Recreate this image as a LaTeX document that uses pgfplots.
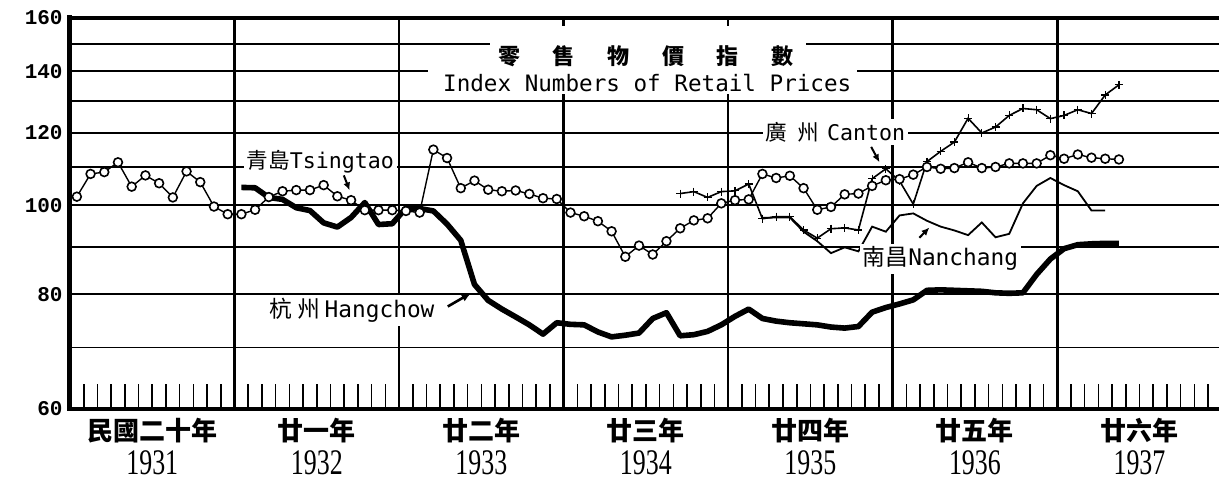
\documentclass[border=0pt]{standalone}
\usepackage{fontspec}
\setmainfont{DejaVu Sans}
\newfontfamily\cjk{Noto Sans CJK TC}
\newfontfamily\lab{DejaVu Sans Mono}
\newfontfamily\tickf{Liberation Mono}
\newfontfamily\yearf{Liberation Serif}
\usepackage{graphicx}
\usepackage{pgfplots}
\pgfplotsset{compat=1.18}
\usetikzlibrary{arrows.meta}

\begin{document}
\begin{tikzpicture}
\begin{axis}[
  scale only axis, width=574.5pt, height=195.5pt,
  xmin=0, xmax=83.8, ymin=60, ymax=160, ymode=log,
  clip=false,
  axis line style={draw=none},
  xtick={0,12,...,84}, xticklabels={}, minor xtick={0,1,...,84},
  xtick pos=bottom, tick align=inside,
  major tick length=12.5pt, minor tick length=12.5pt,
  xtick style={black, line width=0.8pt},
  ytick={60,80,100,120,140,160},
  yticklabels={60,80,100,120,140,160},
  minor ytick={70,90,110,130,150},
  ytick pos=left, ytick style={draw=none},
  ymajorgrids, yminorgrids,
  major grid style={black, line width=0.9pt},
  minor grid style={black, line width=0.9pt},
  yticklabel style={font=\tickf\bfseries\fontsize{10.5}{10.5}\selectfont, inner sep=1pt, xshift=-2.5pt},
]
% year boundaries
\draw[line width=1.3pt] (axis cs:12,60) -- (axis cs:12,160);
\draw[line width=1.3pt] (axis cs:24,60) -- (axis cs:24,160);
\draw[line width=1.3pt] (axis cs:36,60) -- (axis cs:36,160);
\draw[line width=1.3pt] (axis cs:48,60) -- (axis cs:48,160);
\draw[line width=1.3pt] (axis cs:60,60) -- (axis cs:60,160);
\draw[line width=1.3pt] (axis cs:72,60) -- (axis cs:72,160);

% Hangchow
\addplot[black, line width=2.8pt, line join=round] coordinates {
(12.5,104.6)(13.5,104.5)(14.5,102.0)(15.5,101.5)(16.5,99.4)(17.5,98.7)(18.5,95.7)(19.5,94.7)
(20.5,97.0)(21.5,100.7)(22.5,95.3)(23.5,95.5)(24.5,99.3)(25.5,99.2)(26.5,98.6)(27.5,95.4)
(28.5,91.6)(29.5,82.0)(30.5,78.8)(31.5,77.1)(32.5,75.6)(33.5,74.1)(34.5,72.4)(35.5,74.5)
(36.5,74.2)(37.5,74.1)(38.5,72.8)(39.5,71.9)(40.5,72.2)(41.5,72.6)(42.5,75.3)(43.5,76.4)
(44.5,72.1)(45.5,72.3)(46.5,72.9)(47.5,74.1)(48.5,75.7)(49.5,77.1)(50.5,75.3)(51.5,74.8)
(52.5,74.5)(53.5,74.3)(54.5,74.1)(55.5,73.7)(56.5,73.5)(57.5,73.8)(58.5,76.5)(59.5,77.4)
(60.5,78.1)(61.5,78.9)(62.5,80.8)(63.5,80.9)(64.5,80.8)(65.5,80.7)(66.5,80.6)(67.5,80.3)
(68.5,80.2)(69.5,80.3)(70.5,84.1)(71.5,87.4)(72.5,89.7)(73.5,90.6)(74.5,90.8)(75.5,90.9)
(76.5,90.9)};

% Nanchang
\addplot[black, line width=0.9pt] coordinates {
(50.5,96.9)(51.5,97.0)(52.5,97.0)(53.5,93.6)(54.5,91.4)(55.5,88.7)(56.5,90.0)(57.5,89.1)
(58.5,94.8)(59.5,93.6)(60.5,97.5)(61.5,98.0)(62.5,96.2)(63.5,94.8)(64.5,93.9)(65.5,92.8)
(66.5,95.8)(67.5,92.3)(68.5,93.1)(69.5,100.5)(70.5,105.0)(71.5,107.1)(72.5,105.2)(73.5,103.6)
(74.5,98.7)(75.5,98.7)};

% Canton
\addplot[black, line width=0.8pt, mark=+, mark size=2pt, mark options={line width=0.6pt}] coordinates {
(44.5,103.0)(45.5,103.5)(46.5,102.0)(47.5,103.5)(48.5,103.7)(49.5,105.5)(50.5,96.7)(51.5,97.2)
(52.5,97.2)(53.5,94.0)(54.5,92.1)(55.5,94.3)(56.5,94.5)(57.5,94.0)(58.5,106.9)(59.5,109.6)
(60.5,106.3)(61.5,100.3)(62.5,111.6)(63.5,114.5)(64.5,117.2)(65.5,124.4)(66.5,119.9)(67.5,121.7)
(68.5,125.3)(69.5,127.5)(70.5,127.1)(71.5,124.3)(72.5,125.3)(73.5,127.1)(74.5,125.9)(75.5,131.9)
(76.5,135.3)};

% Tsingtao
\addplot[black, line width=0.7pt, mark=*, mark size=2.2pt, mark options={fill=white, line width=0.8pt}] coordinates {
(0.5,102.2)(1.5,108.2)(2.5,108.7)(3.5,111.4)(4.5,104.8)(5.5,107.8)(6.5,105.7)(7.5,102.0)
(8.5,108.9)(9.5,106.0)(10.5,99.7)(11.5,97.8)(12.5,97.8)(13.5,98.9)(14.5,102.1)(15.5,103.6)
(16.5,103.9)(17.5,103.9)(18.5,105.2)(19.5,102.3)(20.5,101.3)(21.5,98.8)(22.5,98.8)(23.5,98.8)
(24.5,98.6)(25.5,98.2)(26.5,115.0)(27.5,112.6)(28.5,104.4)(29.5,106.4)(30.5,104.0)(31.5,103.6)
(32.5,103.8)(33.5,102.9)(34.5,101.8)(35.5,101.6)(36.5,98.2)(37.5,97.3)(38.5,96.1)(39.5,93.7)
(40.5,87.9)(41.5,90.4)(42.5,88.4)(43.5,91.4)(44.5,94.4)(45.5,96.3)(46.5,96.8)(47.5,100.5)
(48.5,101.3)(49.5,101.5)(50.5,108.2)(51.5,107.1)(52.5,107.7)(53.5,104.4)(54.5,98.9)(55.5,99.6)
(56.5,102.8)(57.5,103.0)(58.5,105.0)(59.5,106.5)(60.5,106.8)(61.5,108.0)(62.5,110.1)(63.5,109.6)
(64.5,109.8)(65.5,111.4)(66.5,109.8)(67.5,110.1)(68.5,111.1)(69.5,111.1)(70.5,111.1)(71.5,113.4)
(72.5,112.4)(73.5,113.6)(74.5,112.7)(75.5,112.4)(76.5,112.2)};

% title
\fill[white] (axis cs:30.6,143) rectangle (axis cs:53.7,157);
\fill[white] (axis cs:26.1,132.2) rectangle (axis cs:57.4,143);
\node[font=\cjk\bfseries\fontsize{11}{11}\selectfont] at (axis cs:42.0,145.5)
  {零\hspace{16.3pt}售\hspace{16.3pt}物\hspace{16.3pt}價\hspace{16.3pt}指\hspace{16.3pt}數};
\node[font=\lab\fontsize{11.3}{11.3}\selectfont] at (axis cs:42.1,135.8) {Index Numbers of Retail Prices};

% series labels
\node[fill=white, inner sep=1.5pt, font=\fontsize{10.8}{10.8}\selectfont] at (axis cs:18.26,111.7)
  {{\cjk 青島}{\lab Tsingtao}};
\node[fill=white, inner sep=1.5pt, font=\fontsize{10.8}{10.8}\selectfont] at (axis cs:55.83,120.2)
  {{\cjk 廣\hspace{5pt}州}\hspace{4pt}{\lab Canton}};
\node[fill=white, inner sep=1.5pt, font=\fontsize{11.4}{11.4}\selectfont] at (axis cs:63.48,87.5)
  {{\cjk 南昌}{\lab Nanchang}};
\node[fill=white, inner sep=1.5pt, font=\fontsize{11.4}{11.4}\selectfont] at (axis cs:20.55,76.8)
  {{\cjk 杭\hspace{3pt}州}\hspace{2pt}{\lab Hangchow}};
\draw[-{Latex[length=4pt,width=3.5pt]}, line width=1pt] (axis cs:19.97,107.8) -- (axis cs:20.4,103.8);
\draw[-{Latex[length=4pt,width=3.5pt]}, line width=1pt] (axis cs:58.43,115.8) -- (axis cs:59.04,111.4);
\draw[-{Latex[length=4pt,width=3.5pt]}, line width=1pt] (axis cs:61.95,92.2) -- (axis cs:62.68,94.6);
\draw[-{Latex[length=5pt,width=4pt]}, line width=1.3pt] (axis cs:27.55,77.6) -- (axis cs:29.28,80.3);

% year labels
\node[font=\cjk\bfseries\fontsize{13}{13}\selectfont] at ([yshift=-10.75pt]axis cs:6,60) {民國二十年};
\node[font=\cjk\bfseries\fontsize{13}{13}\selectfont] at ([yshift=-10.75pt]axis cs:18,60) {廿一年};
\node[font=\cjk\bfseries\fontsize{13}{13}\selectfont] at ([yshift=-10.75pt]axis cs:30,60) {廿二年};
\node[font=\cjk\bfseries\fontsize{13}{13}\selectfont] at ([yshift=-10.75pt]axis cs:42,60) {廿三年};
\node[font=\cjk\bfseries\fontsize{13}{13}\selectfont] at ([yshift=-10.75pt]axis cs:54,60) {廿四年};
\node[font=\cjk\bfseries\fontsize{13}{13}\selectfont] at ([yshift=-10.75pt]axis cs:66,60) {廿五年};
\node[font=\cjk\bfseries\fontsize{13}{13}\selectfont] at ([yshift=-10.75pt]axis cs:78,60) {廿六年};
\node at ([yshift=-26.75pt]axis cs:6,60) {\yearf\fontsize{18}{18}\selectfont\scalebox{0.72}[1]{1931}};
\node at ([yshift=-26.75pt]axis cs:18,60) {\yearf\fontsize{18}{18}\selectfont\scalebox{0.72}[1]{1932}};
\node at ([yshift=-26.75pt]axis cs:30,60) {\yearf\fontsize{18}{18}\selectfont\scalebox{0.72}[1]{1933}};
\node at ([yshift=-26.75pt]axis cs:42,60) {\yearf\fontsize{18}{18}\selectfont\scalebox{0.72}[1]{1934}};
\node at ([yshift=-26.75pt]axis cs:54,60) {\yearf\fontsize{18}{18}\selectfont\scalebox{0.72}[1]{1935}};
\node at ([yshift=-26.75pt]axis cs:66,60) {\yearf\fontsize{18}{18}\selectfont\scalebox{0.72}[1]{1936}};
\node at ([yshift=-26.75pt]axis cs:78,60) {\yearf\fontsize{18}{18}\selectfont\scalebox{0.72}[1]{1937}};

% frame
\draw[line width=2.5pt, line cap=rect] (rel axis cs:0,0) -- (rel axis cs:0,1);
\draw[line width=1.6pt] (rel axis cs:0,1) -- (rel axis cs:1,1);
\draw[line width=2pt] (rel axis cs:0,0) -- (rel axis cs:1,0);
\coordinate (SW) at (rel axis cs:0,0);
\coordinate (NE) at (rel axis cs:1,1);
\end{axis}
\pgfresetboundingbox
\path[use as bounding box] ([xshift=-35pt,yshift=-35pt]SW) rectangle ([yshift=9pt]NE);
\end{tikzpicture}
\end{document}
